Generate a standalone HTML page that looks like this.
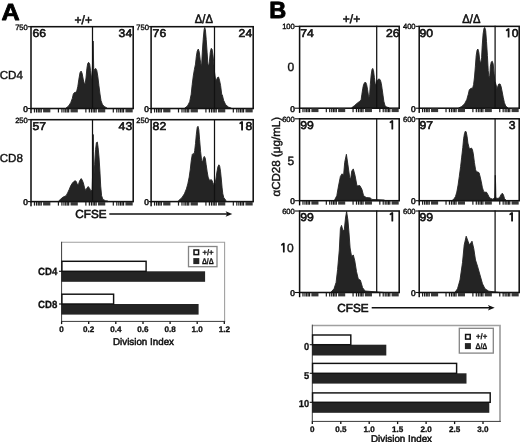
<!DOCTYPE html>
<html><head><meta charset="utf-8"><title>Figure</title>
<style>html,body{margin:0;padding:0;background:#fff;}svg{display:block;}</style></head>
<body>
<svg width="520" height="442" viewBox="0 0 520 442" style="filter:grayscale(1)" text-rendering="geometricPrecision">
<rect width="520" height="442" fill="#fff"/>
<text transform="translate(1.4,20.3) scale(1.08,1)" font-family="Liberation Sans, Arial, Helvetica, sans-serif" font-size="23.3" font-weight="bold" fill="#000" stroke="#000" stroke-width="0.8" stroke-linejoin="round">A</text>
<text x="83.3" y="23.5" font-family="Liberation Sans, Arial, Helvetica, sans-serif" font-size="12" text-anchor="middle" fill="#111" stroke="#111" stroke-width="0.55">+/+</text>
<text transform="translate(203.9,23.4) scale(0.92,1)" font-family="Liberation Sans, Arial, Helvetica, sans-serif" font-size="12.2" text-anchor="middle" fill="#111" stroke="#111" stroke-width="0.55">Δ/Δ</text>
<polygon points="66.0,108.5 66.0,108.1 68.6,106.0 70.7,102.7 72.3,98.4 73.3,94.1 74.4,92.6 76.5,92.0 77.8,86.6 78.9,79.1 80.0,72.7 81.1,71.1 82.1,73.3 83.2,79.1 84.3,83.6 85.1,84.0 86.0,78.0 86.9,68.4 87.7,63.6 88.6,62.3 89.7,64.0 90.5,70.5 91.4,77.6 91.8,78.5 92.6,63.0 93.1,41.0 93.6,63.0 93.9,76.0 94.0,71.6 94.8,69.0 95.7,68.4 96.8,70.5 97.8,76.3 98.9,85.5 100.0,94.1 101.0,100.6 102.3,104.2 104.1,106.4 106.9,107.9 106.9,108.5" fill="#242424" stroke="#242424" stroke-width="0.9" stroke-linejoin="round"/>
<rect x="31" y="26.7" width="102.19999999999999" height="81.8" fill="none" stroke="#111" stroke-width="1.55"/>
<line x1="27.8" y1="26.7" x2="31" y2="26.7" stroke="#111" stroke-width="1.1"/>
<line x1="27.8" y1="108.5" x2="31" y2="108.5" stroke="#111" stroke-width="1.1"/>
<line x1="92.5" y1="26.099999999999998" x2="92.5" y2="108.5" stroke="#111" stroke-width="1.25"/>
<rect x="33.86" y="108.80" width="1.2" height="3.7" fill="#1a1a1a"/>
<rect x="35.91" y="108.80" width="1.2" height="3.7" fill="#1a1a1a"/>
<rect x="37.65" y="108.80" width="1.2" height="3.7" fill="#1a1a1a"/>
<rect x="39.19" y="108.80" width="1.2" height="3.7" fill="#1a1a1a"/>
<rect x="40.62" y="108.80" width="1.2" height="3.7" fill="#1a1a1a"/>
<rect x="43.08" y="108.80" width="7.27" height="3.6" fill="#383838"/>
<rect x="57.82" y="108.80" width="1.2" height="3.7" fill="#1a1a1a"/>
<rect x="61.31" y="108.80" width="1.2" height="3.7" fill="#1a1a1a"/>
<rect x="63.35" y="108.80" width="1.2" height="3.7" fill="#1a1a1a"/>
<rect x="65.10" y="108.80" width="1.2" height="3.7" fill="#1a1a1a"/>
<rect x="66.63" y="108.80" width="1.2" height="3.7" fill="#1a1a1a"/>
<rect x="68.06" y="108.80" width="1.2" height="3.7" fill="#1a1a1a"/>
<rect x="70.53" y="108.80" width="7.27" height="3.6" fill="#383838"/>
<rect x="85.27" y="108.80" width="1.2" height="3.7" fill="#1a1a1a"/>
<rect x="88.75" y="108.80" width="1.2" height="3.7" fill="#1a1a1a"/>
<rect x="90.80" y="108.80" width="1.2" height="3.7" fill="#1a1a1a"/>
<rect x="92.54" y="108.80" width="1.2" height="3.7" fill="#1a1a1a"/>
<rect x="94.08" y="108.80" width="1.2" height="3.7" fill="#1a1a1a"/>
<rect x="95.51" y="108.80" width="1.2" height="3.7" fill="#1a1a1a"/>
<rect x="97.97" y="108.80" width="7.27" height="3.6" fill="#383838"/>
<rect x="112.71" y="108.80" width="1.2" height="3.7" fill="#1a1a1a"/>
<rect x="116.20" y="108.80" width="1.2" height="3.7" fill="#1a1a1a"/>
<rect x="118.24" y="108.80" width="1.2" height="3.7" fill="#1a1a1a"/>
<rect x="119.98" y="108.80" width="1.2" height="3.7" fill="#1a1a1a"/>
<rect x="121.52" y="108.80" width="1.2" height="3.7" fill="#1a1a1a"/>
<rect x="122.95" y="108.80" width="1.2" height="3.7" fill="#1a1a1a"/>
<rect x="125.42" y="108.80" width="7.27" height="3.6" fill="#383838"/>
<rect x="30.30" y="108.80" width="1.4" height="4.4" fill="#000"/>
<text x="27.8" y="29.5" font-family="Liberation Sans, Arial, Helvetica, sans-serif" font-size="7.6" text-anchor="end" fill="#111" stroke="#111" stroke-width="0.4">750</text>
<text x="27.8" y="111.8" font-family="Liberation Sans, Arial, Helvetica, sans-serif" font-size="8.3" text-anchor="end" fill="#111" stroke="#111" stroke-width="0.55">0</text>
<text transform="translate(32.5,37.1) scale(1.08,1)" font-family="Liberation Sans, Arial, Helvetica, sans-serif" font-size="11.3" fill="#111" stroke="#111" stroke-width="0.6">66</text>
<text transform="translate(132.2,37.1) scale(1.08,1)" font-family="Liberation Sans, Arial, Helvetica, sans-serif" font-size="11.3" text-anchor="end" fill="#111" stroke="#111" stroke-width="0.6">34</text>
<polygon points="184.7,108.5 184.7,108.1 187.5,106.0 189.7,101.7 191.2,94.2 192.2,84.5 193.3,75.9 194.4,69.4 195.5,64.1 196.3,56.5 197.2,51.2 198.3,49.0 199.3,52.2 200.2,59.8 201.1,65.6 201.7,64.1 202.3,52.2 203.2,39.3 204.1,29.7 204.7,27.5 205.4,29.7 206.2,39.3 207.1,52.2 207.9,64.1 208.6,66.2 209.4,61.9 210.3,52.2 211.2,48.4 212.0,49.0 212.9,54.4 213.7,61.9 214.6,72.7 215.5,79.1 216.5,80.2 217.4,77.6 218.5,77.0 219.5,80.2 220.6,85.5 221.7,94.2 222.3,95.0 223.6,100.3 225.6,104.6 228.3,107.0 231.5,108.2 231.5,108.5" fill="#242424" stroke="#242424" stroke-width="0.9" stroke-linejoin="round"/>
<rect x="151.1" y="26.7" width="102.1" height="81.8" fill="none" stroke="#111" stroke-width="1.55"/>
<line x1="148.9" y1="26.7" x2="151.1" y2="26.7" stroke="#111" stroke-width="1.1"/>
<line x1="148.9" y1="108.5" x2="151.1" y2="108.5" stroke="#111" stroke-width="1.1"/>
<line x1="214.5" y1="26.099999999999998" x2="214.5" y2="108.5" stroke="#111" stroke-width="1.25"/>
<rect x="153.96" y="108.80" width="1.2" height="3.7" fill="#1a1a1a"/>
<rect x="156.00" y="108.80" width="1.2" height="3.7" fill="#1a1a1a"/>
<rect x="157.74" y="108.80" width="1.2" height="3.7" fill="#1a1a1a"/>
<rect x="159.28" y="108.80" width="1.2" height="3.7" fill="#1a1a1a"/>
<rect x="160.71" y="108.80" width="1.2" height="3.7" fill="#1a1a1a"/>
<rect x="163.17" y="108.80" width="7.26" height="3.6" fill="#383838"/>
<rect x="177.90" y="108.80" width="1.2" height="3.7" fill="#1a1a1a"/>
<rect x="181.38" y="108.80" width="1.2" height="3.7" fill="#1a1a1a"/>
<rect x="183.42" y="108.80" width="1.2" height="3.7" fill="#1a1a1a"/>
<rect x="185.16" y="108.80" width="1.2" height="3.7" fill="#1a1a1a"/>
<rect x="186.70" y="108.80" width="1.2" height="3.7" fill="#1a1a1a"/>
<rect x="188.13" y="108.80" width="1.2" height="3.7" fill="#1a1a1a"/>
<rect x="190.59" y="108.80" width="7.26" height="3.6" fill="#383838"/>
<rect x="205.32" y="108.80" width="1.2" height="3.7" fill="#1a1a1a"/>
<rect x="208.79" y="108.80" width="1.2" height="3.7" fill="#1a1a1a"/>
<rect x="210.84" y="108.80" width="1.2" height="3.7" fill="#1a1a1a"/>
<rect x="212.58" y="108.80" width="1.2" height="3.7" fill="#1a1a1a"/>
<rect x="214.11" y="108.80" width="1.2" height="3.7" fill="#1a1a1a"/>
<rect x="215.55" y="108.80" width="1.2" height="3.7" fill="#1a1a1a"/>
<rect x="218.01" y="108.80" width="7.26" height="3.6" fill="#383838"/>
<rect x="232.73" y="108.80" width="1.2" height="3.7" fill="#1a1a1a"/>
<rect x="236.21" y="108.80" width="1.2" height="3.7" fill="#1a1a1a"/>
<rect x="238.26" y="108.80" width="1.2" height="3.7" fill="#1a1a1a"/>
<rect x="240.00" y="108.80" width="1.2" height="3.7" fill="#1a1a1a"/>
<rect x="241.53" y="108.80" width="1.2" height="3.7" fill="#1a1a1a"/>
<rect x="242.96" y="108.80" width="1.2" height="3.7" fill="#1a1a1a"/>
<rect x="245.42" y="108.80" width="7.26" height="3.6" fill="#383838"/>
<rect x="150.40" y="108.80" width="1.4" height="4.4" fill="#000"/>
<text x="148.9" y="29.5" font-family="Liberation Sans, Arial, Helvetica, sans-serif" font-size="7.6" text-anchor="end" fill="#111" stroke="#111" stroke-width="0.4">750</text>
<text x="148.9" y="111.8" font-family="Liberation Sans, Arial, Helvetica, sans-serif" font-size="8.3" text-anchor="end" fill="#111" stroke="#111" stroke-width="0.55">0</text>
<text transform="translate(152.6,37.1) scale(1.08,1)" font-family="Liberation Sans, Arial, Helvetica, sans-serif" font-size="11.3" fill="#111" stroke="#111" stroke-width="0.6">76</text>
<text transform="translate(252.2,37.1) scale(1.08,1)" font-family="Liberation Sans, Arial, Helvetica, sans-serif" font-size="11.3" text-anchor="end" fill="#111" stroke="#111" stroke-width="0.6">24</text>
<polygon points="58.6,201.6 58.6,201.1 60.8,199.0 62.9,197.2 66.1,195.7 67.6,192.9 69.3,189.3 70.8,185.6 72.6,182.8 74.1,181.3 75.4,180.7 76.4,181.8 77.5,185.0 78.6,183.9 79.7,180.7 81.2,178.6 82.2,180.1 83.3,182.8 84.4,187.2 85.5,190.4 86.5,188.7 88.2,186.5 89.5,188.2 90.8,190.8 92.1,190.4 92.5,177.5 92.9,145.2 93.2,134.5 93.6,151.7 94.1,174.2 94.7,164.6 95.6,149.5 96.4,142.7 97.3,142.0 98.1,147.4 99.0,157.1 99.9,171.0 100.7,186.1 101.6,195.7 102.9,199.4 105.5,200.7 108.0,201.1 108.0,201.6" fill="#242424" stroke="#242424" stroke-width="0.9" stroke-linejoin="round"/>
<rect x="31" y="119.7" width="102.19999999999999" height="81.89999999999999" fill="none" stroke="#111" stroke-width="1.55"/>
<line x1="27.8" y1="119.7" x2="31" y2="119.7" stroke="#111" stroke-width="1.1"/>
<line x1="27.8" y1="201.6" x2="31" y2="201.6" stroke="#111" stroke-width="1.1"/>
<line x1="92.5" y1="119.10000000000001" x2="92.5" y2="201.6" stroke="#111" stroke-width="1.25"/>
<rect x="33.86" y="201.90" width="1.2" height="3.7" fill="#1a1a1a"/>
<rect x="35.91" y="201.90" width="1.2" height="3.7" fill="#1a1a1a"/>
<rect x="37.65" y="201.90" width="1.2" height="3.7" fill="#1a1a1a"/>
<rect x="39.19" y="201.90" width="1.2" height="3.7" fill="#1a1a1a"/>
<rect x="40.62" y="201.90" width="1.2" height="3.7" fill="#1a1a1a"/>
<rect x="43.08" y="201.90" width="7.27" height="3.6" fill="#383838"/>
<rect x="57.82" y="201.90" width="1.2" height="3.7" fill="#1a1a1a"/>
<rect x="61.31" y="201.90" width="1.2" height="3.7" fill="#1a1a1a"/>
<rect x="63.35" y="201.90" width="1.2" height="3.7" fill="#1a1a1a"/>
<rect x="65.10" y="201.90" width="1.2" height="3.7" fill="#1a1a1a"/>
<rect x="66.63" y="201.90" width="1.2" height="3.7" fill="#1a1a1a"/>
<rect x="68.06" y="201.90" width="1.2" height="3.7" fill="#1a1a1a"/>
<rect x="70.53" y="201.90" width="7.27" height="3.6" fill="#383838"/>
<rect x="85.27" y="201.90" width="1.2" height="3.7" fill="#1a1a1a"/>
<rect x="88.75" y="201.90" width="1.2" height="3.7" fill="#1a1a1a"/>
<rect x="90.80" y="201.90" width="1.2" height="3.7" fill="#1a1a1a"/>
<rect x="92.54" y="201.90" width="1.2" height="3.7" fill="#1a1a1a"/>
<rect x="94.08" y="201.90" width="1.2" height="3.7" fill="#1a1a1a"/>
<rect x="95.51" y="201.90" width="1.2" height="3.7" fill="#1a1a1a"/>
<rect x="97.97" y="201.90" width="7.27" height="3.6" fill="#383838"/>
<rect x="112.71" y="201.90" width="1.2" height="3.7" fill="#1a1a1a"/>
<rect x="116.20" y="201.90" width="1.2" height="3.7" fill="#1a1a1a"/>
<rect x="118.24" y="201.90" width="1.2" height="3.7" fill="#1a1a1a"/>
<rect x="119.98" y="201.90" width="1.2" height="3.7" fill="#1a1a1a"/>
<rect x="121.52" y="201.90" width="1.2" height="3.7" fill="#1a1a1a"/>
<rect x="122.95" y="201.90" width="1.2" height="3.7" fill="#1a1a1a"/>
<rect x="125.42" y="201.90" width="7.27" height="3.6" fill="#383838"/>
<rect x="30.30" y="201.90" width="1.4" height="4.4" fill="#000"/>
<text x="27.8" y="122.5" font-family="Liberation Sans, Arial, Helvetica, sans-serif" font-size="7.6" text-anchor="end" fill="#111" stroke="#111" stroke-width="0.4">250</text>
<text x="27.8" y="204.9" font-family="Liberation Sans, Arial, Helvetica, sans-serif" font-size="8.3" text-anchor="end" fill="#111" stroke="#111" stroke-width="0.55">0</text>
<text transform="translate(32.5,130.1) scale(1.08,1)" font-family="Liberation Sans, Arial, Helvetica, sans-serif" font-size="11.3" fill="#111" stroke="#111" stroke-width="0.6">57</text>
<text transform="translate(132.2,130.1) scale(1.08,1)" font-family="Liberation Sans, Arial, Helvetica, sans-serif" font-size="11.3" text-anchor="end" fill="#111" stroke="#111" stroke-width="0.6">43</text>
<polygon points="178.5,201.6 178.5,200.7 181.9,197.7 184.4,193.8 186.4,188.9 187.8,183.9 189.2,177.1 190.3,169.2 191.3,160.3 192.3,154.4 193.3,153.4 194.1,154.4 194.7,150.5 195.5,143.6 196.3,134.7 197.2,127.5 198.0,126.3 198.8,129.8 199.6,139.7 200.6,151.5 201.6,160.3 202.6,162.3 203.3,158.3 204.3,156.4 205.3,158.3 206.1,164.3 207.1,171.2 208.1,177.1 209.1,179.4 210.0,180.6 211.0,179.4 212.0,180.6 213.0,183.0 214.0,184.9 215.0,183.9 215.9,179.0 216.9,172.1 217.9,166.8 218.9,164.8 219.7,166.2 220.5,171.2 221.3,179.0 222.1,187.9 222.8,193.8 223.8,197.7 225.8,200.3 225.8,201.6" fill="#242424" stroke="#242424" stroke-width="0.9" stroke-linejoin="round"/>
<rect x="151.1" y="119.7" width="102.1" height="81.89999999999999" fill="none" stroke="#111" stroke-width="1.55"/>
<line x1="148.9" y1="119.7" x2="151.1" y2="119.7" stroke="#111" stroke-width="1.1"/>
<line x1="148.9" y1="201.6" x2="151.1" y2="201.6" stroke="#111" stroke-width="1.1"/>
<line x1="214.5" y1="119.10000000000001" x2="214.5" y2="201.6" stroke="#111" stroke-width="1.25"/>
<rect x="153.96" y="201.90" width="1.2" height="3.7" fill="#1a1a1a"/>
<rect x="156.00" y="201.90" width="1.2" height="3.7" fill="#1a1a1a"/>
<rect x="157.74" y="201.90" width="1.2" height="3.7" fill="#1a1a1a"/>
<rect x="159.28" y="201.90" width="1.2" height="3.7" fill="#1a1a1a"/>
<rect x="160.71" y="201.90" width="1.2" height="3.7" fill="#1a1a1a"/>
<rect x="163.17" y="201.90" width="7.26" height="3.6" fill="#383838"/>
<rect x="177.90" y="201.90" width="1.2" height="3.7" fill="#1a1a1a"/>
<rect x="181.38" y="201.90" width="1.2" height="3.7" fill="#1a1a1a"/>
<rect x="183.42" y="201.90" width="1.2" height="3.7" fill="#1a1a1a"/>
<rect x="185.16" y="201.90" width="1.2" height="3.7" fill="#1a1a1a"/>
<rect x="186.70" y="201.90" width="1.2" height="3.7" fill="#1a1a1a"/>
<rect x="188.13" y="201.90" width="1.2" height="3.7" fill="#1a1a1a"/>
<rect x="190.59" y="201.90" width="7.26" height="3.6" fill="#383838"/>
<rect x="205.32" y="201.90" width="1.2" height="3.7" fill="#1a1a1a"/>
<rect x="208.79" y="201.90" width="1.2" height="3.7" fill="#1a1a1a"/>
<rect x="210.84" y="201.90" width="1.2" height="3.7" fill="#1a1a1a"/>
<rect x="212.58" y="201.90" width="1.2" height="3.7" fill="#1a1a1a"/>
<rect x="214.11" y="201.90" width="1.2" height="3.7" fill="#1a1a1a"/>
<rect x="215.55" y="201.90" width="1.2" height="3.7" fill="#1a1a1a"/>
<rect x="218.01" y="201.90" width="7.26" height="3.6" fill="#383838"/>
<rect x="232.73" y="201.90" width="1.2" height="3.7" fill="#1a1a1a"/>
<rect x="236.21" y="201.90" width="1.2" height="3.7" fill="#1a1a1a"/>
<rect x="238.26" y="201.90" width="1.2" height="3.7" fill="#1a1a1a"/>
<rect x="240.00" y="201.90" width="1.2" height="3.7" fill="#1a1a1a"/>
<rect x="241.53" y="201.90" width="1.2" height="3.7" fill="#1a1a1a"/>
<rect x="242.96" y="201.90" width="1.2" height="3.7" fill="#1a1a1a"/>
<rect x="245.42" y="201.90" width="7.26" height="3.6" fill="#383838"/>
<rect x="150.40" y="201.90" width="1.4" height="4.4" fill="#000"/>
<text x="148.9" y="122.5" font-family="Liberation Sans, Arial, Helvetica, sans-serif" font-size="7.6" text-anchor="end" fill="#111" stroke="#111" stroke-width="0.4">250</text>
<text x="148.9" y="204.9" font-family="Liberation Sans, Arial, Helvetica, sans-serif" font-size="8.3" text-anchor="end" fill="#111" stroke="#111" stroke-width="0.55">0</text>
<text transform="translate(152.6,130.1) scale(1.08,1)" font-family="Liberation Sans, Arial, Helvetica, sans-serif" font-size="11.3" fill="#111" stroke="#111" stroke-width="0.6">82</text>
<text transform="translate(252.2,130.1) scale(1.08,1)" font-family="Liberation Sans, Arial, Helvetica, sans-serif" font-size="11.3" text-anchor="end" fill="#111" stroke="#111" stroke-width="0.6"><tspan font-family="NanumGothic, Liberation Sans, sans-serif" stroke-width="0.85">1</tspan>8</text>
<text x="-0.3" y="78.5" font-family="Liberation Sans, Arial, Helvetica, sans-serif" font-size="11.6" fill="#111" stroke="#111" stroke-width="0.4">CD4</text>
<text x="-0.3" y="162.4" font-family="Liberation Sans, Arial, Helvetica, sans-serif" font-size="11.6" fill="#111" stroke="#111" stroke-width="0.4">CD8</text>
<text x="75.3" y="217.7" font-family="Liberation Sans, Arial, Helvetica, sans-serif" font-size="11.7" fill="#111" stroke="#111" stroke-width="0.6">CFSE</text>
<line x1="109.3" y1="214" x2="228" y2="214" stroke="#111" stroke-width="1.6"/>
<polygon points="232.3,214 225.6,211.3 227.2,214 225.6,216.7" fill="#111"/>
<text x="269.2" y="17.7" font-family="Liberation Sans, Arial, Helvetica, sans-serif" font-size="23.5" font-weight="bold" fill="#000" stroke="#000" stroke-width="0.9" stroke-linejoin="round">B</text>
<text x="351.5" y="23.2" font-family="Liberation Sans, Arial, Helvetica, sans-serif" font-size="12" text-anchor="middle" fill="#111" stroke="#111" stroke-width="0.55">+/+</text>
<text transform="translate(471.4,22.7) scale(0.92,1)" font-family="Liberation Sans, Arial, Helvetica, sans-serif" font-size="12.2" text-anchor="middle" fill="#111" stroke="#111" stroke-width="0.55">Δ/Δ</text>
<polygon points="351.8,108.2 351.8,107.7 354.6,105.5 357.2,103.2 359.8,101.2 361.1,100.0 361.9,94.2 362.8,88.3 363.6,84.5 364.7,82.5 365.8,82.5 366.6,84.5 367.5,89.2 368.4,95.2 369.0,97.4 369.7,94.2 370.3,84.5 371.2,74.8 372.0,69.4 372.7,68.4 373.5,70.5 374.4,77.6 375.2,83.4 376.1,84.5 377.0,81.2 378.0,79.5 379.3,78.9 380.4,80.2 381.3,83.4 382.1,88.8 383.0,95.2 383.8,101.2 384.9,105.3 386.4,107.0 389.0,107.7 389.0,108.2" fill="#242424" stroke="#242424" stroke-width="0.9" stroke-linejoin="round"/>
<rect x="299.6" y="26.35" width="99.59999999999997" height="81.85" fill="none" stroke="#111" stroke-width="1.55"/>
<line x1="294.8" y1="26.35" x2="299.6" y2="26.35" stroke="#111" stroke-width="1.1"/>
<line x1="294.8" y1="108.2" x2="299.6" y2="108.2" stroke="#111" stroke-width="1.1"/>
<line x1="376.7" y1="25.75" x2="376.7" y2="108.2" stroke="#111" stroke-width="1.25"/>
<rect x="302.37" y="108.50" width="1.2" height="3.7" fill="#1a1a1a"/>
<rect x="304.37" y="108.50" width="1.2" height="3.7" fill="#1a1a1a"/>
<rect x="306.07" y="108.50" width="1.2" height="3.7" fill="#1a1a1a"/>
<rect x="307.56" y="108.50" width="1.2" height="3.7" fill="#1a1a1a"/>
<rect x="308.96" y="108.50" width="1.2" height="3.7" fill="#1a1a1a"/>
<rect x="311.38" y="108.50" width="7.09" height="3.6" fill="#383838"/>
<rect x="325.73" y="108.50" width="1.2" height="3.7" fill="#1a1a1a"/>
<rect x="329.12" y="108.50" width="1.2" height="3.7" fill="#1a1a1a"/>
<rect x="331.12" y="108.50" width="1.2" height="3.7" fill="#1a1a1a"/>
<rect x="332.81" y="108.50" width="1.2" height="3.7" fill="#1a1a1a"/>
<rect x="334.31" y="108.50" width="1.2" height="3.7" fill="#1a1a1a"/>
<rect x="335.71" y="108.50" width="1.2" height="3.7" fill="#1a1a1a"/>
<rect x="338.12" y="108.50" width="7.09" height="3.6" fill="#383838"/>
<rect x="352.47" y="108.50" width="1.2" height="3.7" fill="#1a1a1a"/>
<rect x="355.87" y="108.50" width="1.2" height="3.7" fill="#1a1a1a"/>
<rect x="357.86" y="108.50" width="1.2" height="3.7" fill="#1a1a1a"/>
<rect x="359.56" y="108.50" width="1.2" height="3.7" fill="#1a1a1a"/>
<rect x="361.06" y="108.50" width="1.2" height="3.7" fill="#1a1a1a"/>
<rect x="362.45" y="108.50" width="1.2" height="3.7" fill="#1a1a1a"/>
<rect x="364.87" y="108.50" width="7.09" height="3.6" fill="#383838"/>
<rect x="379.22" y="108.50" width="1.2" height="3.7" fill="#1a1a1a"/>
<rect x="382.61" y="108.50" width="1.2" height="3.7" fill="#1a1a1a"/>
<rect x="384.61" y="108.50" width="1.2" height="3.7" fill="#1a1a1a"/>
<rect x="386.30" y="108.50" width="1.2" height="3.7" fill="#1a1a1a"/>
<rect x="387.80" y="108.50" width="1.2" height="3.7" fill="#1a1a1a"/>
<rect x="389.20" y="108.50" width="1.2" height="3.7" fill="#1a1a1a"/>
<rect x="391.62" y="108.50" width="7.09" height="3.6" fill="#383838"/>
<rect x="298.90" y="108.50" width="1.4" height="4.4" fill="#000"/>
<text x="294.8" y="29.150000000000002" font-family="Liberation Sans, Arial, Helvetica, sans-serif" font-size="7.6" text-anchor="end" fill="#111" stroke="#111" stroke-width="0.4">100</text>
<text x="294.8" y="111.5" font-family="Liberation Sans, Arial, Helvetica, sans-serif" font-size="8.3" text-anchor="end" fill="#111" stroke="#111" stroke-width="0.55">0</text>
<text transform="translate(300.3,36.75) scale(1.08,1)" font-family="Liberation Sans, Arial, Helvetica, sans-serif" font-size="11.3" fill="#111" stroke="#111" stroke-width="0.6">74</text>
<text transform="translate(399.5,36.75) scale(1.08,1)" font-family="Liberation Sans, Arial, Helvetica, sans-serif" font-size="11.3" text-anchor="end" fill="#111" stroke="#111" stroke-width="0.6">26</text>
<polygon points="458.6,108.2 458.6,108.1 461.8,106.4 464.6,103.8 466.8,99.5 468.3,94.2 469.3,89.8 471.1,88.3 472.6,88.3 473.6,84.5 474.5,77.0 475.4,66.2 476.2,55.5 477.1,50.1 477.9,49.0 478.8,52.2 479.7,59.8 480.7,64.1 481.6,57.6 482.2,45.8 483.1,34.0 484.0,28.2 484.8,27.5 485.7,30.8 486.5,41.5 487.4,55.5 488.2,70.5 489.1,78.0 489.8,75.9 490.4,66.2 491.3,61.9 492.3,61.3 493.2,64.1 494.1,73.7 494.9,81.2 496.0,84.5 496.9,88.8 497.7,86.6 498.8,84.0 500.1,84.0 501.1,86.6 502.2,92.0 503.3,97.8 504.4,102.7 505.7,106.0 508.0,108.1 508.0,108.2" fill="#242424" stroke="#242424" stroke-width="0.9" stroke-linejoin="round"/>
<rect x="419.2" y="26.35" width="100.00000000000006" height="81.85" fill="none" stroke="#111" stroke-width="1.55"/>
<line x1="415.59999999999997" y1="26.35" x2="419.2" y2="26.35" stroke="#111" stroke-width="1.1"/>
<line x1="415.59999999999997" y1="108.2" x2="419.2" y2="108.2" stroke="#111" stroke-width="1.1"/>
<line x1="495.1" y1="25.75" x2="495.1" y2="108.2" stroke="#111" stroke-width="1.25"/>
<rect x="421.99" y="108.50" width="1.2" height="3.7" fill="#1a1a1a"/>
<rect x="423.99" y="108.50" width="1.2" height="3.7" fill="#1a1a1a"/>
<rect x="425.69" y="108.50" width="1.2" height="3.7" fill="#1a1a1a"/>
<rect x="427.20" y="108.50" width="1.2" height="3.7" fill="#1a1a1a"/>
<rect x="428.60" y="108.50" width="1.2" height="3.7" fill="#1a1a1a"/>
<rect x="431.02" y="108.50" width="7.11" height="3.6" fill="#383838"/>
<rect x="445.43" y="108.50" width="1.2" height="3.7" fill="#1a1a1a"/>
<rect x="448.84" y="108.50" width="1.2" height="3.7" fill="#1a1a1a"/>
<rect x="450.84" y="108.50" width="1.2" height="3.7" fill="#1a1a1a"/>
<rect x="452.55" y="108.50" width="1.2" height="3.7" fill="#1a1a1a"/>
<rect x="454.05" y="108.50" width="1.2" height="3.7" fill="#1a1a1a"/>
<rect x="455.45" y="108.50" width="1.2" height="3.7" fill="#1a1a1a"/>
<rect x="457.88" y="108.50" width="7.11" height="3.6" fill="#383838"/>
<rect x="472.29" y="108.50" width="1.2" height="3.7" fill="#1a1a1a"/>
<rect x="475.69" y="108.50" width="1.2" height="3.7" fill="#1a1a1a"/>
<rect x="477.70" y="108.50" width="1.2" height="3.7" fill="#1a1a1a"/>
<rect x="479.40" y="108.50" width="1.2" height="3.7" fill="#1a1a1a"/>
<rect x="480.90" y="108.50" width="1.2" height="3.7" fill="#1a1a1a"/>
<rect x="482.31" y="108.50" width="1.2" height="3.7" fill="#1a1a1a"/>
<rect x="484.73" y="108.50" width="7.11" height="3.6" fill="#383838"/>
<rect x="499.14" y="108.50" width="1.2" height="3.7" fill="#1a1a1a"/>
<rect x="502.55" y="108.50" width="1.2" height="3.7" fill="#1a1a1a"/>
<rect x="504.55" y="108.50" width="1.2" height="3.7" fill="#1a1a1a"/>
<rect x="506.26" y="108.50" width="1.2" height="3.7" fill="#1a1a1a"/>
<rect x="507.76" y="108.50" width="1.2" height="3.7" fill="#1a1a1a"/>
<rect x="509.16" y="108.50" width="1.2" height="3.7" fill="#1a1a1a"/>
<rect x="511.58" y="108.50" width="7.11" height="3.6" fill="#383838"/>
<rect x="418.50" y="108.50" width="1.4" height="4.4" fill="#000"/>
<text x="415.59999999999997" y="29.150000000000002" font-family="Liberation Sans, Arial, Helvetica, sans-serif" font-size="7.6" text-anchor="end" fill="#111" stroke="#111" stroke-width="0.4">400</text>
<text x="415.59999999999997" y="111.5" font-family="Liberation Sans, Arial, Helvetica, sans-serif" font-size="8.3" text-anchor="end" fill="#111" stroke="#111" stroke-width="0.55">0</text>
<text transform="translate(419.5,36.75) scale(1.08,1)" font-family="Liberation Sans, Arial, Helvetica, sans-serif" font-size="11.3" fill="#111" stroke="#111" stroke-width="0.6">90</text>
<text transform="translate(518.6,36.75) scale(1.08,1)" font-family="Liberation Sans, Arial, Helvetica, sans-serif" font-size="11.3" text-anchor="end" fill="#111" stroke="#111" stroke-width="0.6"><tspan font-family="NanumGothic, Liberation Sans, sans-serif" stroke-width="0.85">1</tspan>0</text>
<polygon points="334.6,200.7 334.6,200.0 336.8,195.7 338.3,187.1 340.4,176.4 342.1,173.8 343.6,175.3 344.7,162.4 346.4,154.3 347.9,164.6 349.7,177.5 350.7,178.5 351.8,171.0 353.3,168.9 355.0,175.3 357.0,186.0 359.8,185.6 361.9,189.3 363.6,195.7 366.2,197.5 370.5,197.9 371.6,199.4 384.5,200.0 384.5,200.7" fill="#242424" stroke="#242424" stroke-width="0.9" stroke-linejoin="round"/>
<rect x="299.6" y="118.8" width="99.59999999999997" height="81.89999999999999" fill="none" stroke="#111" stroke-width="1.55"/>
<line x1="294.8" y1="118.8" x2="299.6" y2="118.8" stroke="#111" stroke-width="1.1"/>
<line x1="294.8" y1="200.7" x2="299.6" y2="200.7" stroke="#111" stroke-width="1.1"/>
<line x1="376.7" y1="118.2" x2="376.7" y2="200.7" stroke="#111" stroke-width="1.25"/>
<rect x="302.37" y="201.00" width="1.2" height="3.7" fill="#1a1a1a"/>
<rect x="304.37" y="201.00" width="1.2" height="3.7" fill="#1a1a1a"/>
<rect x="306.07" y="201.00" width="1.2" height="3.7" fill="#1a1a1a"/>
<rect x="307.56" y="201.00" width="1.2" height="3.7" fill="#1a1a1a"/>
<rect x="308.96" y="201.00" width="1.2" height="3.7" fill="#1a1a1a"/>
<rect x="311.38" y="201.00" width="7.09" height="3.6" fill="#383838"/>
<rect x="325.73" y="201.00" width="1.2" height="3.7" fill="#1a1a1a"/>
<rect x="329.12" y="201.00" width="1.2" height="3.7" fill="#1a1a1a"/>
<rect x="331.12" y="201.00" width="1.2" height="3.7" fill="#1a1a1a"/>
<rect x="332.81" y="201.00" width="1.2" height="3.7" fill="#1a1a1a"/>
<rect x="334.31" y="201.00" width="1.2" height="3.7" fill="#1a1a1a"/>
<rect x="335.71" y="201.00" width="1.2" height="3.7" fill="#1a1a1a"/>
<rect x="338.12" y="201.00" width="7.09" height="3.6" fill="#383838"/>
<rect x="352.47" y="201.00" width="1.2" height="3.7" fill="#1a1a1a"/>
<rect x="355.87" y="201.00" width="1.2" height="3.7" fill="#1a1a1a"/>
<rect x="357.86" y="201.00" width="1.2" height="3.7" fill="#1a1a1a"/>
<rect x="359.56" y="201.00" width="1.2" height="3.7" fill="#1a1a1a"/>
<rect x="361.06" y="201.00" width="1.2" height="3.7" fill="#1a1a1a"/>
<rect x="362.45" y="201.00" width="1.2" height="3.7" fill="#1a1a1a"/>
<rect x="364.87" y="201.00" width="7.09" height="3.6" fill="#383838"/>
<rect x="379.22" y="201.00" width="1.2" height="3.7" fill="#1a1a1a"/>
<rect x="382.61" y="201.00" width="1.2" height="3.7" fill="#1a1a1a"/>
<rect x="384.61" y="201.00" width="1.2" height="3.7" fill="#1a1a1a"/>
<rect x="386.30" y="201.00" width="1.2" height="3.7" fill="#1a1a1a"/>
<rect x="387.80" y="201.00" width="1.2" height="3.7" fill="#1a1a1a"/>
<rect x="389.20" y="201.00" width="1.2" height="3.7" fill="#1a1a1a"/>
<rect x="391.62" y="201.00" width="7.09" height="3.6" fill="#383838"/>
<rect x="298.90" y="201.00" width="1.4" height="4.4" fill="#000"/>
<text x="294.8" y="121.6" font-family="Liberation Sans, Arial, Helvetica, sans-serif" font-size="7.6" text-anchor="end" fill="#111" stroke="#111" stroke-width="0.4">600</text>
<text x="294.8" y="204.0" font-family="Liberation Sans, Arial, Helvetica, sans-serif" font-size="8.3" text-anchor="end" fill="#111" stroke="#111" stroke-width="0.55">0</text>
<text transform="translate(300.3,129.2) scale(1.08,1)" font-family="Liberation Sans, Arial, Helvetica, sans-serif" font-size="11.3" fill="#111" stroke="#111" stroke-width="0.6">99</text>
<text transform="translate(395.6,129.2) scale(1.08,1)" font-family="Liberation Sans, Arial, Helvetica, sans-serif" font-size="11.3" text-anchor="end" fill="#111" stroke="#111" stroke-width="0.6"><tspan font-family="NanumGothic, Liberation Sans, sans-serif" stroke-width="0.85">1</tspan></text>
<polygon points="451.8,200.7 451.8,200.7 454.0,199.0 455.5,196.4 456.8,192.1 458.1,185.0 459.3,176.4 460.6,166.7 461.7,157.1 462.8,147.4 463.6,138.8 464.5,133.4 465.4,131.1 466.2,131.9 467.1,136.6 467.9,143.1 469.0,147.4 470.1,148.7 471.4,148.0 472.4,149.5 473.3,153.8 474.4,162.4 475.5,169.3 476.5,172.1 477.8,171.9 479.1,172.8 480.2,177.0 481.3,181.8 482.3,187.2 483.6,191.4 484.9,192.3 486.4,192.1 487.7,194.2 489.0,196.8 490.7,198.5 492.9,199.2 494.2,198.1 494.8,197.2 495.1,183.9 495.3,175.3 495.6,183.9 495.9,197.9 498.0,198.5 499.8,197.2 501.0,194.7 502.3,193.2 503.4,194.7 504.5,198.5 506.2,200.5 506.2,200.7" fill="#242424" stroke="#242424" stroke-width="0.9" stroke-linejoin="round"/>
<rect x="419.2" y="118.8" width="100.00000000000006" height="81.89999999999999" fill="none" stroke="#111" stroke-width="1.55"/>
<line x1="415.59999999999997" y1="118.8" x2="419.2" y2="118.8" stroke="#111" stroke-width="1.1"/>
<line x1="415.59999999999997" y1="200.7" x2="419.2" y2="200.7" stroke="#111" stroke-width="1.1"/>
<line x1="495.1" y1="118.2" x2="495.1" y2="200.7" stroke="#111" stroke-width="1.25"/>
<rect x="421.99" y="201.00" width="1.2" height="3.7" fill="#1a1a1a"/>
<rect x="423.99" y="201.00" width="1.2" height="3.7" fill="#1a1a1a"/>
<rect x="425.69" y="201.00" width="1.2" height="3.7" fill="#1a1a1a"/>
<rect x="427.20" y="201.00" width="1.2" height="3.7" fill="#1a1a1a"/>
<rect x="428.60" y="201.00" width="1.2" height="3.7" fill="#1a1a1a"/>
<rect x="431.02" y="201.00" width="7.11" height="3.6" fill="#383838"/>
<rect x="445.43" y="201.00" width="1.2" height="3.7" fill="#1a1a1a"/>
<rect x="448.84" y="201.00" width="1.2" height="3.7" fill="#1a1a1a"/>
<rect x="450.84" y="201.00" width="1.2" height="3.7" fill="#1a1a1a"/>
<rect x="452.55" y="201.00" width="1.2" height="3.7" fill="#1a1a1a"/>
<rect x="454.05" y="201.00" width="1.2" height="3.7" fill="#1a1a1a"/>
<rect x="455.45" y="201.00" width="1.2" height="3.7" fill="#1a1a1a"/>
<rect x="457.88" y="201.00" width="7.11" height="3.6" fill="#383838"/>
<rect x="472.29" y="201.00" width="1.2" height="3.7" fill="#1a1a1a"/>
<rect x="475.69" y="201.00" width="1.2" height="3.7" fill="#1a1a1a"/>
<rect x="477.70" y="201.00" width="1.2" height="3.7" fill="#1a1a1a"/>
<rect x="479.40" y="201.00" width="1.2" height="3.7" fill="#1a1a1a"/>
<rect x="480.90" y="201.00" width="1.2" height="3.7" fill="#1a1a1a"/>
<rect x="482.31" y="201.00" width="1.2" height="3.7" fill="#1a1a1a"/>
<rect x="484.73" y="201.00" width="7.11" height="3.6" fill="#383838"/>
<rect x="499.14" y="201.00" width="1.2" height="3.7" fill="#1a1a1a"/>
<rect x="502.55" y="201.00" width="1.2" height="3.7" fill="#1a1a1a"/>
<rect x="504.55" y="201.00" width="1.2" height="3.7" fill="#1a1a1a"/>
<rect x="506.26" y="201.00" width="1.2" height="3.7" fill="#1a1a1a"/>
<rect x="507.76" y="201.00" width="1.2" height="3.7" fill="#1a1a1a"/>
<rect x="509.16" y="201.00" width="1.2" height="3.7" fill="#1a1a1a"/>
<rect x="511.58" y="201.00" width="7.11" height="3.6" fill="#383838"/>
<rect x="418.50" y="201.00" width="1.4" height="4.4" fill="#000"/>
<text x="415.59999999999997" y="121.6" font-family="Liberation Sans, Arial, Helvetica, sans-serif" font-size="7.6" text-anchor="end" fill="#111" stroke="#111" stroke-width="0.4">600</text>
<text x="415.59999999999997" y="204.0" font-family="Liberation Sans, Arial, Helvetica, sans-serif" font-size="8.3" text-anchor="end" fill="#111" stroke="#111" stroke-width="0.55">0</text>
<text transform="translate(419.5,129.2) scale(1.08,1)" font-family="Liberation Sans, Arial, Helvetica, sans-serif" font-size="11.3" fill="#111" stroke="#111" stroke-width="0.6">97</text>
<text transform="translate(515.5,129.2) scale(1.08,1)" font-family="Liberation Sans, Arial, Helvetica, sans-serif" font-size="11.3" text-anchor="end" fill="#111" stroke="#111" stroke-width="0.6">3</text>
<polygon points="330.7,292.5 330.7,292.5 334.0,288.8 336.1,282.4 337.6,269.5 339.3,250.1 340.4,228.6 341.5,225.4 343.0,230.8 344.3,229.7 345.5,218.0 346.6,211.4 347.9,220.0 349.0,232.9 350.1,248.0 351.6,256.6 353.3,254.9 354.8,260.9 356.5,271.6 358.3,279.1 360.4,280.2 362.6,287.7 365.1,291.0 384.5,292.5 384.5,292.5" fill="#242424" stroke="#242424" stroke-width="0.9" stroke-linejoin="round"/>
<rect x="299.6" y="211" width="99.59999999999997" height="81.5" fill="none" stroke="#111" stroke-width="1.55"/>
<line x1="294.8" y1="211" x2="299.6" y2="211" stroke="#111" stroke-width="1.1"/>
<line x1="294.8" y1="292.5" x2="299.6" y2="292.5" stroke="#111" stroke-width="1.1"/>
<line x1="376.7" y1="210.4" x2="376.7" y2="292.5" stroke="#111" stroke-width="1.25"/>
<rect x="302.37" y="292.80" width="1.2" height="3.7" fill="#1a1a1a"/>
<rect x="304.37" y="292.80" width="1.2" height="3.7" fill="#1a1a1a"/>
<rect x="306.07" y="292.80" width="1.2" height="3.7" fill="#1a1a1a"/>
<rect x="307.56" y="292.80" width="1.2" height="3.7" fill="#1a1a1a"/>
<rect x="308.96" y="292.80" width="1.2" height="3.7" fill="#1a1a1a"/>
<rect x="311.38" y="292.80" width="7.09" height="3.6" fill="#383838"/>
<rect x="325.73" y="292.80" width="1.2" height="3.7" fill="#1a1a1a"/>
<rect x="329.12" y="292.80" width="1.2" height="3.7" fill="#1a1a1a"/>
<rect x="331.12" y="292.80" width="1.2" height="3.7" fill="#1a1a1a"/>
<rect x="332.81" y="292.80" width="1.2" height="3.7" fill="#1a1a1a"/>
<rect x="334.31" y="292.80" width="1.2" height="3.7" fill="#1a1a1a"/>
<rect x="335.71" y="292.80" width="1.2" height="3.7" fill="#1a1a1a"/>
<rect x="338.12" y="292.80" width="7.09" height="3.6" fill="#383838"/>
<rect x="352.47" y="292.80" width="1.2" height="3.7" fill="#1a1a1a"/>
<rect x="355.87" y="292.80" width="1.2" height="3.7" fill="#1a1a1a"/>
<rect x="357.86" y="292.80" width="1.2" height="3.7" fill="#1a1a1a"/>
<rect x="359.56" y="292.80" width="1.2" height="3.7" fill="#1a1a1a"/>
<rect x="361.06" y="292.80" width="1.2" height="3.7" fill="#1a1a1a"/>
<rect x="362.45" y="292.80" width="1.2" height="3.7" fill="#1a1a1a"/>
<rect x="364.87" y="292.80" width="7.09" height="3.6" fill="#383838"/>
<rect x="379.22" y="292.80" width="1.2" height="3.7" fill="#1a1a1a"/>
<rect x="382.61" y="292.80" width="1.2" height="3.7" fill="#1a1a1a"/>
<rect x="384.61" y="292.80" width="1.2" height="3.7" fill="#1a1a1a"/>
<rect x="386.30" y="292.80" width="1.2" height="3.7" fill="#1a1a1a"/>
<rect x="387.80" y="292.80" width="1.2" height="3.7" fill="#1a1a1a"/>
<rect x="389.20" y="292.80" width="1.2" height="3.7" fill="#1a1a1a"/>
<rect x="391.62" y="292.80" width="7.09" height="3.6" fill="#383838"/>
<rect x="298.90" y="292.80" width="1.4" height="4.4" fill="#000"/>
<text x="294.8" y="213.8" font-family="Liberation Sans, Arial, Helvetica, sans-serif" font-size="7.6" text-anchor="end" fill="#111" stroke="#111" stroke-width="0.4">600</text>
<text x="294.8" y="295.8" font-family="Liberation Sans, Arial, Helvetica, sans-serif" font-size="8.3" text-anchor="end" fill="#111" stroke="#111" stroke-width="0.55">0</text>
<text transform="translate(300.3,221.4) scale(1.08,1)" font-family="Liberation Sans, Arial, Helvetica, sans-serif" font-size="11.3" fill="#111" stroke="#111" stroke-width="0.6">99</text>
<text transform="translate(395.6,221.4) scale(1.08,1)" font-family="Liberation Sans, Arial, Helvetica, sans-serif" font-size="11.3" text-anchor="end" fill="#111" stroke="#111" stroke-width="0.6"><tspan font-family="NanumGothic, Liberation Sans, sans-serif" stroke-width="0.85">1</tspan></text>
<polygon points="454.5,292.5 454.5,293.0 457.5,288.8 460.0,280.0 462.5,262.5 464.2,245.0 466.2,236.2 468.0,241.2 469.5,245.0 472.0,241.2 473.8,248.8 475.5,260.0 477.5,266.2 480.0,275.0 482.5,283.8 485.0,288.8 488.8,291.2 505.0,293.0 505.0,292.5" fill="#242424" stroke="#242424" stroke-width="0.9" stroke-linejoin="round"/>
<rect x="419.2" y="211" width="100.00000000000006" height="81.5" fill="none" stroke="#111" stroke-width="1.55"/>
<line x1="415.59999999999997" y1="211" x2="419.2" y2="211" stroke="#111" stroke-width="1.1"/>
<line x1="415.59999999999997" y1="292.5" x2="419.2" y2="292.5" stroke="#111" stroke-width="1.1"/>
<line x1="495.1" y1="210.4" x2="495.1" y2="292.5" stroke="#111" stroke-width="1.25"/>
<rect x="421.99" y="292.80" width="1.2" height="3.7" fill="#1a1a1a"/>
<rect x="423.99" y="292.80" width="1.2" height="3.7" fill="#1a1a1a"/>
<rect x="425.69" y="292.80" width="1.2" height="3.7" fill="#1a1a1a"/>
<rect x="427.20" y="292.80" width="1.2" height="3.7" fill="#1a1a1a"/>
<rect x="428.60" y="292.80" width="1.2" height="3.7" fill="#1a1a1a"/>
<rect x="431.02" y="292.80" width="7.11" height="3.6" fill="#383838"/>
<rect x="445.43" y="292.80" width="1.2" height="3.7" fill="#1a1a1a"/>
<rect x="448.84" y="292.80" width="1.2" height="3.7" fill="#1a1a1a"/>
<rect x="450.84" y="292.80" width="1.2" height="3.7" fill="#1a1a1a"/>
<rect x="452.55" y="292.80" width="1.2" height="3.7" fill="#1a1a1a"/>
<rect x="454.05" y="292.80" width="1.2" height="3.7" fill="#1a1a1a"/>
<rect x="455.45" y="292.80" width="1.2" height="3.7" fill="#1a1a1a"/>
<rect x="457.88" y="292.80" width="7.11" height="3.6" fill="#383838"/>
<rect x="472.29" y="292.80" width="1.2" height="3.7" fill="#1a1a1a"/>
<rect x="475.69" y="292.80" width="1.2" height="3.7" fill="#1a1a1a"/>
<rect x="477.70" y="292.80" width="1.2" height="3.7" fill="#1a1a1a"/>
<rect x="479.40" y="292.80" width="1.2" height="3.7" fill="#1a1a1a"/>
<rect x="480.90" y="292.80" width="1.2" height="3.7" fill="#1a1a1a"/>
<rect x="482.31" y="292.80" width="1.2" height="3.7" fill="#1a1a1a"/>
<rect x="484.73" y="292.80" width="7.11" height="3.6" fill="#383838"/>
<rect x="499.14" y="292.80" width="1.2" height="3.7" fill="#1a1a1a"/>
<rect x="502.55" y="292.80" width="1.2" height="3.7" fill="#1a1a1a"/>
<rect x="504.55" y="292.80" width="1.2" height="3.7" fill="#1a1a1a"/>
<rect x="506.26" y="292.80" width="1.2" height="3.7" fill="#1a1a1a"/>
<rect x="507.76" y="292.80" width="1.2" height="3.7" fill="#1a1a1a"/>
<rect x="509.16" y="292.80" width="1.2" height="3.7" fill="#1a1a1a"/>
<rect x="511.58" y="292.80" width="7.11" height="3.6" fill="#383838"/>
<rect x="418.50" y="292.80" width="1.4" height="4.4" fill="#000"/>
<text x="415.59999999999997" y="213.8" font-family="Liberation Sans, Arial, Helvetica, sans-serif" font-size="7.6" text-anchor="end" fill="#111" stroke="#111" stroke-width="0.4">600</text>
<text x="415.59999999999997" y="295.8" font-family="Liberation Sans, Arial, Helvetica, sans-serif" font-size="8.3" text-anchor="end" fill="#111" stroke="#111" stroke-width="0.55">0</text>
<text transform="translate(419.5,221.4) scale(1.08,1)" font-family="Liberation Sans, Arial, Helvetica, sans-serif" font-size="11.3" fill="#111" stroke="#111" stroke-width="0.6">99</text>
<text transform="translate(515.5,221.4) scale(1.08,1)" font-family="Liberation Sans, Arial, Helvetica, sans-serif" font-size="11.3" text-anchor="end" fill="#111" stroke="#111" stroke-width="0.6"><tspan font-family="NanumGothic, Liberation Sans, sans-serif" stroke-width="0.85">1</tspan></text>
<text x="290.8" y="70.9" font-family="Liberation Sans, Arial, Helvetica, sans-serif" font-size="12" text-anchor="middle" fill="#111" stroke="#111" stroke-width="0.4">0</text>
<text x="290.9" y="165.4" font-family="Liberation Sans, Arial, Helvetica, sans-serif" font-size="12" text-anchor="middle" fill="#111" stroke="#111" stroke-width="0.4">5</text>
<text x="286.8" y="252.4" font-family="Liberation Sans, Arial, Helvetica, sans-serif" font-size="12" text-anchor="middle" fill="#111" stroke="#111" stroke-width="0.4"><tspan font-family="NanumGothic, Liberation Sans, sans-serif" stroke-width="0.85">1</tspan>0</text>
<text transform="translate(279.9,156.7) rotate(-90)" font-family="Liberation Sans, Arial, Helvetica, sans-serif" font-size="11.6" text-anchor="middle" fill="#111" stroke="#111" stroke-width="0.4">αCD28 (μg/mL)</text>
<text x="337.3" y="311.9" font-family="Liberation Sans, Arial, Helvetica, sans-serif" font-size="11.7" fill="#111" stroke="#111" stroke-width="0.6">CFSE</text>
<line x1="371.7" y1="307.8" x2="490" y2="307.8" stroke="#111" stroke-width="1.6"/>
<polygon points="494.7,307.8 487.9,305.1 489.5,307.8 487.9,310.5" fill="#111"/>
<polyline points="61.6,242.3 224.6,242.3 224.6,321.4" fill="none" stroke="#a0a0a0" stroke-width="1.1"/>
<line x1="61.6" y1="241.75" x2="61.6" y2="321.4" stroke="#3a3a3a" stroke-width="1"/>
<line x1="61.1" y1="321.4" x2="225.15" y2="321.4" stroke="#3a3a3a" stroke-width="1"/>
<rect x="61.300000000000004" y="271.3" width="143.8" height="10.5" fill="#242424"/>
<rect x="61.9" y="261.3" width="84.2" height="10.000000000000023" fill="#fff" stroke="#111" stroke-width="1.45"/>
<line x1="59.0" y1="271.3" x2="61.6" y2="271.3" stroke="#111" stroke-width="1.1"/>
<rect x="61.300000000000004" y="304.0" width="137.3" height="10.600000000000023" fill="#242424"/>
<rect x="61.9" y="294.20000000000005" width="51.7" height="9.799999999999978" fill="#fff" stroke="#111" stroke-width="1.45"/>
<line x1="59.0" y1="304.0" x2="61.6" y2="304.0" stroke="#111" stroke-width="1.1"/>
<line x1="61.6" y1="321.4" x2="61.6" y2="324.09999999999997" stroke="#111" stroke-width="1.3"/>
<text x="61.6" y="332.3" font-family="Liberation Sans, Arial, Helvetica, sans-serif" font-size="8.1" font-weight="bold" text-anchor="middle" fill="#111" stroke="#111" stroke-width="0.3">0</text>
<line x1="88.7" y1="321.4" x2="88.7" y2="324.09999999999997" stroke="#111" stroke-width="1.3"/>
<text x="88.7" y="332.3" font-family="Liberation Sans, Arial, Helvetica, sans-serif" font-size="8.1" font-weight="bold" text-anchor="middle" fill="#111" stroke="#111" stroke-width="0.3">0.2</text>
<line x1="115.8" y1="321.4" x2="115.8" y2="324.09999999999997" stroke="#111" stroke-width="1.3"/>
<text x="115.8" y="332.3" font-family="Liberation Sans, Arial, Helvetica, sans-serif" font-size="8.1" font-weight="bold" text-anchor="middle" fill="#111" stroke="#111" stroke-width="0.3">0.4</text>
<line x1="143.0" y1="321.4" x2="143.0" y2="324.09999999999997" stroke="#111" stroke-width="1.3"/>
<text x="143.0" y="332.3" font-family="Liberation Sans, Arial, Helvetica, sans-serif" font-size="8.1" font-weight="bold" text-anchor="middle" fill="#111" stroke="#111" stroke-width="0.3">0.6</text>
<line x1="170.1" y1="321.4" x2="170.1" y2="324.09999999999997" stroke="#111" stroke-width="1.3"/>
<text x="170.1" y="332.3" font-family="Liberation Sans, Arial, Helvetica, sans-serif" font-size="8.1" font-weight="bold" text-anchor="middle" fill="#111" stroke="#111" stroke-width="0.3">0.8</text>
<line x1="197.2" y1="321.4" x2="197.2" y2="324.09999999999997" stroke="#111" stroke-width="1.3"/>
<text x="197.2" y="332.3" font-family="Liberation Sans, Arial, Helvetica, sans-serif" font-size="8.1" font-weight="bold" text-anchor="middle" fill="#111" stroke="#111" stroke-width="0.3">1.0</text>
<line x1="224.3" y1="321.4" x2="224.3" y2="324.09999999999997" stroke="#111" stroke-width="1.3"/>
<text x="224.3" y="332.3" font-family="Liberation Sans, Arial, Helvetica, sans-serif" font-size="8.1" font-weight="bold" text-anchor="middle" fill="#111" stroke="#111" stroke-width="0.3">1.2</text>
<text transform="translate(57.4,274.8) scale(0.93,1)" font-family="Liberation Sans, Arial, Helvetica, sans-serif" font-size="10.4" font-weight="bold" text-anchor="end" fill="#111" stroke="#111" stroke-width="0.3">CD4</text>
<text transform="translate(57.4,307.6) scale(0.93,1)" font-family="Liberation Sans, Arial, Helvetica, sans-serif" font-size="10.4" font-weight="bold" text-anchor="end" fill="#111" stroke="#111" stroke-width="0.3">CD8</text>
<rect x="188.5" y="246.5" width="28.5" height="20.19999999999999" fill="#fff" stroke="#858585" stroke-width="1.3"/>
<rect x="194.0" y="250.0" width="4.6" height="4.6" fill="#fff" stroke="#111" stroke-width="1.5"/>
<rect x="193.3" y="258.1" width="6" height="6" fill="#242424"/>
<text x="202.4" y="254.9" font-family="Liberation Sans, Arial, Helvetica, sans-serif" font-size="7.8" font-weight="bold" fill="#111" stroke="#111" stroke-width="0.25">+/+</text>
<text transform="translate(201.9,263.90000000000003) scale(0.86,1)" font-family="Liberation Sans, Arial, Helvetica, sans-serif" font-size="8" font-weight="bold" fill="#111" stroke="#111" stroke-width="0.3">Δ/Δ</text>
<text x="143.5" y="344.9" font-family="Liberation Sans, Arial, Helvetica, sans-serif" font-size="9.8" text-anchor="middle" fill="#111" stroke="#111" stroke-width="0.5">Division Index</text>
<polyline points="312.3,325.5 500,325.5 500,421.4" fill="none" stroke="#a0a0a0" stroke-width="1.7"/>
<line x1="312.3" y1="324.65" x2="312.3" y2="421.4" stroke="#3a3a3a" stroke-width="1"/>
<line x1="311.8" y1="421.4" x2="500.85" y2="421.4" stroke="#3a3a3a" stroke-width="1"/>
<rect x="312.0" y="344.7" width="74.3" height="10.800000000000011" fill="#242424"/>
<rect x="312.6" y="335.0" width="38.2" height="9.700000000000012" fill="#fff" stroke="#111" stroke-width="1.45"/>
<line x1="309.7" y1="344.7" x2="312.3" y2="344.7" stroke="#111" stroke-width="1.1"/>
<rect x="312.0" y="373.3" width="154.5" height="10.300000000000011" fill="#242424"/>
<rect x="312.6" y="363.40000000000003" width="144.0" height="9.9" fill="#fff" stroke="#111" stroke-width="1.45"/>
<line x1="309.7" y1="373.3" x2="312.3" y2="373.3" stroke="#111" stroke-width="1.1"/>
<rect x="312.0" y="402.3" width="177.3" height="10.5" fill="#242424"/>
<rect x="312.6" y="392.90000000000003" width="177.6" height="9.4" fill="#fff" stroke="#111" stroke-width="1.45"/>
<line x1="309.7" y1="402.3" x2="312.3" y2="402.3" stroke="#111" stroke-width="1.1"/>
<line x1="312.3" y1="421.4" x2="312.3" y2="424.09999999999997" stroke="#111" stroke-width="1.3"/>
<text x="312.3" y="431.6" font-family="Liberation Sans, Arial, Helvetica, sans-serif" font-size="8.1" font-weight="bold" text-anchor="middle" fill="#111" stroke="#111" stroke-width="0.3">0</text>
<line x1="340.8" y1="421.4" x2="340.8" y2="424.09999999999997" stroke="#111" stroke-width="1.3"/>
<text x="340.8" y="431.6" font-family="Liberation Sans, Arial, Helvetica, sans-serif" font-size="8.1" font-weight="bold" text-anchor="middle" fill="#111" stroke="#111" stroke-width="0.3">0.5</text>
<line x1="369.2" y1="421.4" x2="369.2" y2="424.09999999999997" stroke="#111" stroke-width="1.3"/>
<text x="369.2" y="431.6" font-family="Liberation Sans, Arial, Helvetica, sans-serif" font-size="8.1" font-weight="bold" text-anchor="middle" fill="#111" stroke="#111" stroke-width="0.3">1.0</text>
<line x1="397.6" y1="421.4" x2="397.6" y2="424.09999999999997" stroke="#111" stroke-width="1.3"/>
<text x="397.6" y="431.6" font-family="Liberation Sans, Arial, Helvetica, sans-serif" font-size="8.1" font-weight="bold" text-anchor="middle" fill="#111" stroke="#111" stroke-width="0.3">1.5</text>
<line x1="426.1" y1="421.4" x2="426.1" y2="424.09999999999997" stroke="#111" stroke-width="1.3"/>
<text x="426.1" y="431.6" font-family="Liberation Sans, Arial, Helvetica, sans-serif" font-size="8.1" font-weight="bold" text-anchor="middle" fill="#111" stroke="#111" stroke-width="0.3">2.0</text>
<line x1="454.6" y1="421.4" x2="454.6" y2="424.09999999999997" stroke="#111" stroke-width="1.3"/>
<text x="454.6" y="431.6" font-family="Liberation Sans, Arial, Helvetica, sans-serif" font-size="8.1" font-weight="bold" text-anchor="middle" fill="#111" stroke="#111" stroke-width="0.3">2.5</text>
<line x1="483.0" y1="421.4" x2="483.0" y2="424.09999999999997" stroke="#111" stroke-width="1.3"/>
<text x="483.0" y="431.6" font-family="Liberation Sans, Arial, Helvetica, sans-serif" font-size="8.1" font-weight="bold" text-anchor="middle" fill="#111" stroke="#111" stroke-width="0.3">3.0</text>
<text transform="translate(309.2,349.5) scale(0.93,1)" font-family="Liberation Sans, Arial, Helvetica, sans-serif" font-size="10" font-weight="bold" text-anchor="end" fill="#111" stroke="#111" stroke-width="0.3">0</text>
<text transform="translate(309.2,378.8) scale(0.93,1)" font-family="Liberation Sans, Arial, Helvetica, sans-serif" font-size="10" font-weight="bold" text-anchor="end" fill="#111" stroke="#111" stroke-width="0.3">5</text>
<text transform="translate(309.2,407) scale(0.93,1)" font-family="Liberation Sans, Arial, Helvetica, sans-serif" font-size="10" font-weight="bold" text-anchor="end" fill="#111" stroke="#111" stroke-width="0.3">10</text>
<rect x="459.3" y="328.3" width="34.0" height="24.80000000000001" fill="#fff" stroke="#858585" stroke-width="1.3"/>
<rect x="465.59999999999997" y="334.5" width="4.6" height="4.6" fill="#fff" stroke="#111" stroke-width="1.5"/>
<rect x="464.9" y="343.1" width="6" height="6" fill="#242424"/>
<text x="476" y="339.40000000000003" font-family="Liberation Sans, Arial, Helvetica, sans-serif" font-size="7.8" font-weight="bold" fill="#111" stroke="#111" stroke-width="0.25">+/+</text>
<text transform="translate(475.5,348.90000000000003) scale(0.86,1)" font-family="Liberation Sans, Arial, Helvetica, sans-serif" font-size="8" font-weight="bold" fill="#111" stroke="#111" stroke-width="0.3">Δ/Δ</text>
<text x="401.5" y="442.2" font-family="Liberation Sans, Arial, Helvetica, sans-serif" font-size="9.8" text-anchor="middle" fill="#111" stroke="#111" stroke-width="0.5">Division Index</text>
</svg>
</body></html>
